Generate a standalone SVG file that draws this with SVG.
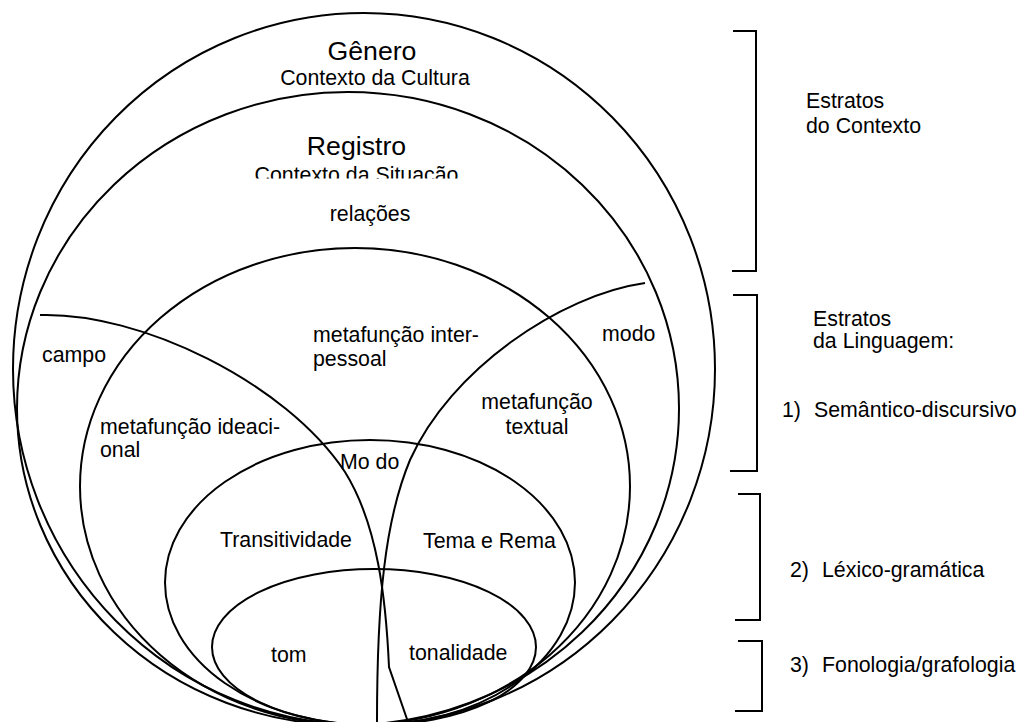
<svg xmlns="http://www.w3.org/2000/svg" width="1018" height="722" viewBox="0 0 1018 722">
<defs>
<style>
.s{fill:none;stroke:#000;stroke-width:2}
.t{font-family:"Liberation Sans",Arial,sans-serif;font-size:21.33px;fill:#000}
.big{font-size:26.67px}
.m{text-anchor:middle}
</style>
<clipPath id="clipSit"><rect x="200" y="150" width="320" height="28.5"/></clipPath>
</defs>
<rect width="1018" height="722" fill="#fff"/>
<g id="genero">
<ellipse class="s" cx="364" cy="369" rx="351" ry="356"/>
<text class="t big m" x="372" y="60">Gênero</text>
<text class="t m" x="375" y="85">Contexto da Cultura</text>
</g>
<g id="registro">
<ellipse class="s" cx="348" cy="408.5" rx="331" ry="316.5"/>
<text class="t big m" x="356.5" y="155">Registro</text>
<text class="t m" x="356.5" y="182" clip-path="url(#clipSit)">Contexto da Situação</text>
<text class="t m" x="370" y="221">relações</text>
</g>
<g id="interpessoal">
<ellipse class="s" cx="355" cy="486.5" rx="275" ry="238.5"/>
<text class="t" x="313" y="342">metafunção inter-</text>
<text class="t" x="313" y="366">pessoal</text>
</g>
<g id="arcs">
<path id="arco-campo" class="s" d="M40,315 C140,312 285,382 345,472 C378,525 386,600 389,667 L408,722"/>
<path id="arco-modo" class="s" d="M645,283 C560,295 450,370 410,460 C385,520 377,600 377,722"/>
</g>
<g id="campo"><text class="t" x="42" y="362">campo</text></g>
<g id="modo"><text class="t" x="602" y="341">modo</text></g>
<g id="ideacional">
<text class="t" x="100" y="434">metafunção ideaci-</text>
<text class="t" x="100" y="457">onal</text>
</g>
<g id="textual">
<text class="t m" x="537" y="409">metafunção</text>
<text class="t m" x="537" y="434">textual</text>
</g>
<g id="lexicogramatica">
<ellipse class="s" cx="370" cy="582.5" rx="205" ry="142.5"/>
<text class="t" x="340" y="469">Mo do</text>
<text class="t" x="220" y="547">Transitividade</text>
<text class="t" x="423" y="548">Tema e Rema</text>
</g>
<g id="fonologia">
<ellipse class="s" cx="374" cy="647" rx="162" ry="78"/>
<text class="t" x="271" y="662">tom</text>
<text class="t" x="409" y="660">tonalidade</text>
</g>
<g id="brackets">
<path class="s" d="M733,31 H756 V271 H732"/>
<path class="s" d="M733,295 H757 V471 H730"/>
<path class="s" d="M738,494 H760 V620 H735"/>
<path class="s" d="M738,641 H762 V711 H735"/>
</g>
<g id="legenda">
<text class="t" x="806" y="108">Estratos</text>
<text class="t" x="806" y="133">do Contexto</text>
<text class="t" x="813" y="326">Estratos</text>
<text class="t" x="813" y="348">da Linguagem:</text>
<text class="t" y="417"><tspan x="782">1)</tspan><tspan x="814">Semântico-discursivo</tspan></text>
<text class="t" y="577"><tspan x="790">2)</tspan><tspan x="822">Léxico-gramática</tspan></text>
<text class="t" y="672"><tspan x="790">3)</tspan><tspan x="822">Fonologia/grafologia</tspan></text>
</g>
</svg>
